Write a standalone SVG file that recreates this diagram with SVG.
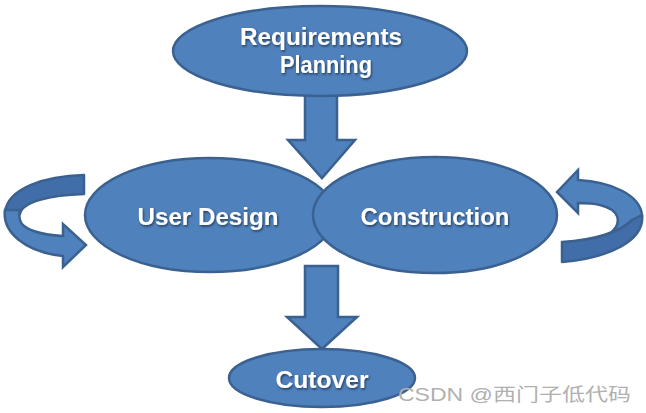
<svg xmlns="http://www.w3.org/2000/svg" width="646" height="413" viewBox="0 0 646 413">
<style>
.n{fill:#4f81bd;stroke:#3a6190;stroke-width:2.5}
.dk{fill:#416ea8;stroke:#3a6190;stroke-width:2.5;stroke-linejoin:round}
.ar{fill:#4f81bd;stroke:#3a6190;stroke-width:2.5;stroke-linejoin:miter}
.t{font-family:"Liberation Sans",Arial,sans-serif;font-weight:bold;font-size:23.5px;fill:#fff;text-anchor:middle;filter:url(#sh)}
.wm{font-family:"Liberation Sans","Noto Sans CJK SC",sans-serif;font-size:18px;fill:#b0b0b0}
</style>
<defs>
<filter id="sh" x="-10%" y="-20%" width="120%" height="150%">
<feDropShadow dx="1" dy="1.5" stdDeviation="0.8" flood-color="#000" flood-opacity="0.55"/>
</filter>
</defs>
<rect width="646" height="413" fill="#fff"/>
<g id="connectors">
<path class="ar" d="M305,95 L337,95 L337,140 L355,140 L322,178 L288,140 L305,140 Z"/>
<path class="ar" d="M305,266 L338,266 L338,317 L357,317 L322,349 L287,317 L305,317 Z"/>
<path class="dk" d="M84,175 C45,176 8,188 5,212 L20,214 C22,202 50,195 84,194 Z"/>
<path class="ar" d="M5,210 C2,232 25,252 63,256 L63,267 L86,245 L63,224 L63,236 C40,235 22,229 20,220 C19,216 19,213 20,210 Z"/>
<path class="ar" d="M557,192 L578,170 L578,180 C612,182 640,195 642,215 C643,228 630,238 612,244 L612,232 C622,222 620,210 600,205 C592,203 585,203 578,203 L578,213 Z"/>
<path class="dk" d="M642,215 C645,240 610,258 562,262 L562,242 C595,240 620,232 632,220 Z"/>
</g>
<g id="requirements">
<ellipse class="n" cx="320" cy="51" rx="147" ry="45"/>
<text class="t" x="321" y="45" textLength="162" lengthAdjust="spacingAndGlyphs">Requirements</text>
<text class="t" x="326" y="73" textLength="92" lengthAdjust="spacingAndGlyphs">Planning</text>
</g>
<g id="userdesign">
<ellipse class="n" cx="210" cy="215" rx="125" ry="57"/>
<text class="t" x="208" y="225" textLength="141" lengthAdjust="spacingAndGlyphs">User Design</text>
</g>
<g id="construction">
<ellipse class="n" cx="435" cy="215" rx="122" ry="58"/>
<text class="t" x="435" y="225" textLength="149" lengthAdjust="spacingAndGlyphs">Construction</text>
</g>
<g id="cutover">
<ellipse class="n" cx="322" cy="378" rx="93" ry="29"/>
<text class="t" x="322" y="388" textLength="93" lengthAdjust="spacingAndGlyphs">Cutover</text>
</g>
<text class="wm" x="398" y="401" textLength="233" lengthAdjust="spacingAndGlyphs">CSDN @西门子低代码</text>
</svg>
